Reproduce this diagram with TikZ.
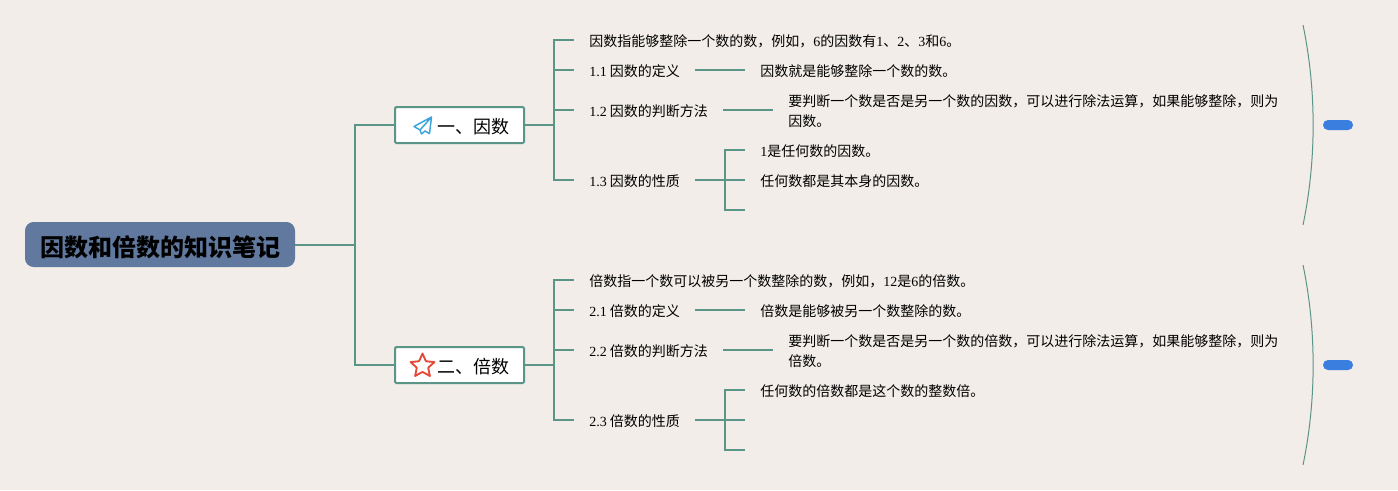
\documentclass[tikz,border=0pt]{standalone}
\usepackage{fontspec}
\setmainfont{Noto Sans CJK SC}
\newfontfamily\latf{Liberation Serif}
\newcommand{\lt}[1]{{\latf #1}}
\definecolor{bgc}{HTML}{F2EDE8}
\definecolor{linec}{HTML}{5A9587}
\definecolor{rootc}{HTML}{61799F}
\definecolor{pillc}{HTML}{3A7FE0}
\definecolor{planec}{HTML}{3BA4DC}
\definecolor{starc}{HTML}{E5493A}
\tikzset{
  conn/.style={draw=linec,line width=1.5pt},
  rootbox/.style={fill=rootc,rounded corners=6.5pt,minimum width=202.5pt,minimum height=33.75pt,inner sep=0pt,text height=19.6pt,text depth=2.2pt,font=\fontsize{18}{22}\selectfont\bfseries,text=black},
  topicbox/.style={draw=linec,line width=1.5pt,fill=white,rounded corners=1pt,minimum width=96.75pt,minimum height=27pt,inner xsep=11.25pt,inner ysep=0pt,text width=74.25pt,text height=14.1pt,text depth=1.6pt,align=right,font=\fontsize{13.5}{16}\selectfont,text=black},
  leaf/.style={anchor=west,inner xsep=11.25pt,inner ysep=0pt,align=left,text height=10pt,text depth=0.5pt,font=\fontsize{10.5}{15}\selectfont,text=black},
  twolines/.style={text height=25pt},
  arcline/.style={draw=linec,line width=0.75pt},
  pill/.style={fill=pillc,rounded corners=3.7pt,minimum width=22.5pt,minimum height=7.5pt,inner sep=0pt},
}
\begin{document}
\begin{tikzpicture}[x=0.75pt,y=-0.75pt]
\fill[bgc] (0,0) rectangle (1398,490);
\useasboundingbox (0,0) rectangle (1398,490);
% root and topics
\node[rootbox] (root) at (160,244.5) {因数和倍数的知识笔记};
\node[topicbox] (t1) at (459.5,125) {一、因数};
\node[topicbox] (t2) at (459.5,365) {二、倍数};
\coordinate (jr) at (355,244.5);
\draw[conn] (root.east) -- (jr);
\draw[conn] (jr) |- (t1.west);
\draw[conn] (jr) |- (t2.west);
% icons
\draw[planec,line width=1.1pt,line join=round] (431.5,117) -- (414,126.5) -- (420,130) -- (421.5,134) -- (425,131) -- (429.5,133.5) -- cycle (431.5,117) -- (420,130);
\draw[starc,line width=1.4pt,line join=round]
  (422.5,353.5) -- (425.9,361.2) -- (434.4,362.1) -- (428.2,367.7) -- (429.9,376) -- (422.5,371.9) -- (415.1,376) -- (416.8,367.7) -- (410.6,362.1) -- (419.1,361.2) -- cycle;
% branch 1
\coordinate (j1) at (554,125);
\draw[conn] (t1.east) -- (j1);
\node[leaf] (a0) at (574,40) {因数指能够整除一个数的数，例如，\lt{6}的因数有\lt{1}、\lt{2}、\lt{3}和\lt{6}。};
\node[leaf] (a1) at (574,70) {\lt{1.1} 因数的定义};
\node[leaf] (a2) at (574,110) {\lt{1.2} 因数的判断方法};
\node[leaf] (a3) at (574,180) {\lt{1.3} 因数的性质};
\foreach \n in {a0,a1,a2,a3} \draw[conn] (j1) |- (\n.west);
\node[leaf] (a1x) at (745,70) {因数就是能够整除一个数的数。};
\node[leaf,twolines] (a2x) at (773,110) {要判断一个数是否是另一个数的因数，可以进行除法运算，如果能够整除，则为\\因数。};
\draw[conn] (a1.east) -- (a1x.west);
\draw[conn] (a2.east) -- (a2x.west);
\coordinate (j1c) at (725,180);
\draw[conn] (a3.east) -- (j1c);
\node[leaf] (a3a) at (745,150) {\lt{1}是任何数的因数。};
\node[leaf] (a3b) at (745,180) {任何数都是其本身的因数。};
\coordinate (a3c) at (745,210);
\draw[conn] (j1c) |- (a3a.west);
\draw[conn] (j1c) |- (a3b.west);
\draw[conn] (j1c) |- (a3c);
% branch 2
\coordinate (j2) at (554,365);
\draw[conn] (t2.east) -- (j2);
\node[leaf] (b0) at (574,280) {倍数指一个数可以被另一个数整除的数，例如，\lt{12}是\lt{6}的倍数。};
\node[leaf] (b1) at (574,310) {\lt{2.1} 倍数的定义};
\node[leaf] (b2) at (574,350) {\lt{2.2} 倍数的判断方法};
\node[leaf] (b3) at (574,420) {\lt{2.3} 倍数的性质};
\foreach \n in {b0,b1,b2,b3} \draw[conn] (j2) |- (\n.west);
\node[leaf] (b1x) at (745,310) {倍数是能够被另一个数整除的数。};
\node[leaf,twolines] (b2x) at (773,350) {要判断一个数是否是另一个数的倍数，可以进行除法运算，如果能够整除，则为\\倍数。};
\draw[conn] (b1.east) -- (b1x.west);
\draw[conn] (b2.east) -- (b2x.west);
\coordinate (j2c) at (725,420);
\draw[conn] (b3.east) -- (j2c);
\node[leaf] (b3a) at (745,390) {任何数的倍数都是这个数的整数倍。};
\coordinate (b3b) at (745,420);
\coordinate (b3c) at (745,450);
\draw[conn] (j2c) |- (b3a.west);
\draw[conn] (j2c) |- (b3b);
\draw[conn] (j2c) |- (b3c);
% side summaries
\draw[arcline] (1303,25) .. controls (1316.5,90) and (1316.5,160) .. (1303,225);
\draw[arcline] (1303,265) .. controls (1316.5,330) and (1316.5,400) .. (1303,465);
\node[pill] (p1) at (1338,125) {};
\node[pill] (p2) at (1338,365) {};
\end{tikzpicture}
\end{document}
